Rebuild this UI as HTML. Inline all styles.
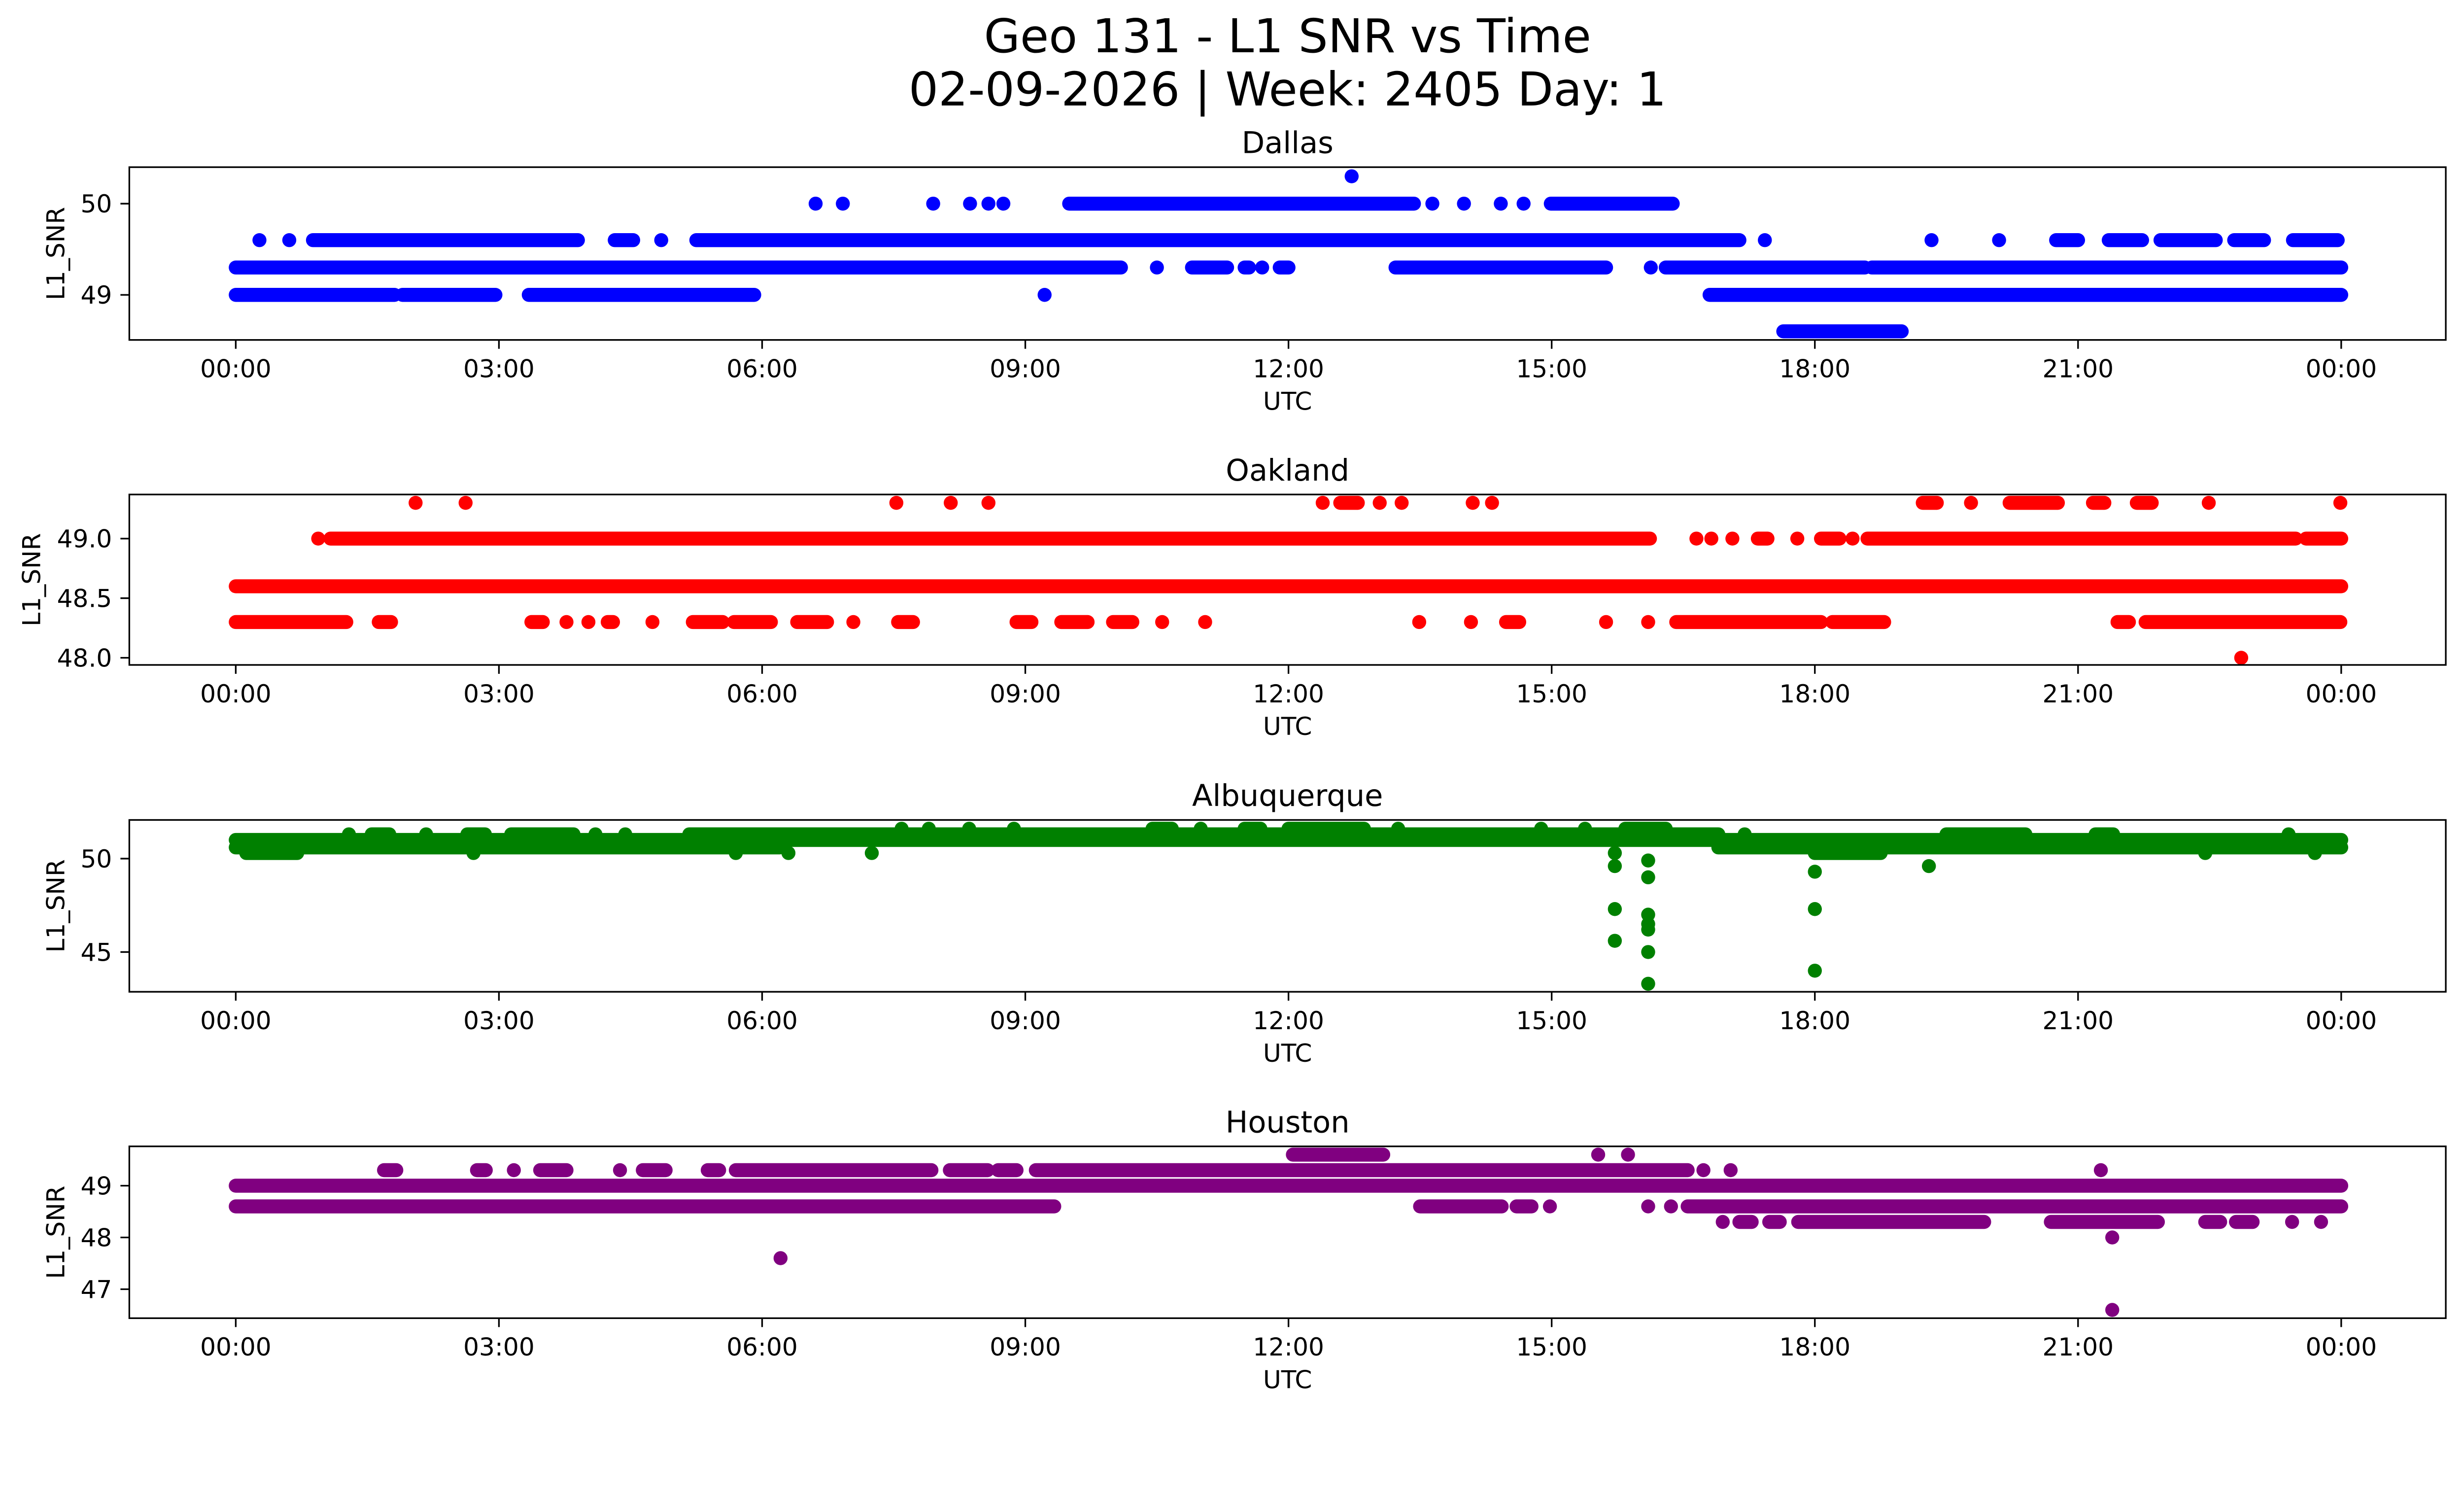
<!DOCTYPE html>
<html><head><meta charset="utf-8"><style>
html,body{margin:0;padding:0;background:#fff;overflow:hidden;}
svg{display:block;width:100vw;height:calc(100vw * 3033 / 5278);font-family:"DejaVu Sans","Liberation Sans",sans-serif;}
</style></head><body>
<svg id="fig" viewBox="0 0 5278 3033" preserveAspectRatio="none" xmlns="http://www.w3.org/2000/svg">
<rect width="5278" height="3033" fill="#fff"/>
<text x="2758" y="112" font-size="100" text-anchor="middle">Geo 131 - L1 SNR vs Time</text>
<text x="2758" y="226" font-size="100" text-anchor="middle">02-09-2026 | Week: 2405 Day: 1</text>
</svg>
<script>
// ---- data ----
const stations = ["Dallas","Oakland","Albuquerque","Houston"];
const colors = ["#0000ff","#ff0000","#008000","#800080"];
const yTicks = [[49,50],[48.0,48.5,49.0],[45,50],[47,48,49]];
const yTickLabels = [["49","50"],["48.0","48.5","49.0"],["45","50"],["47","48","49"]];
const yLims = [[48.506,50.40],[47.94,49.37],[42.87,52.07],[46.44,49.76]];
const xTickHours = [0,3,6,9,12,15,18,21,24];
const xTickLabels = ["00:00","03:00","06:00","09:00","12:00","15:00","18:00","21:00","00:00"];
// runs: [level, startHour, endHour]
const dallasRuns = [
[50.3,12.72,12.72],
[50.0,6.61,6.61],[50.0,6.92,6.92],[50.0,7.95,7.95],[50.0,8.37,8.37],[50.0,8.58,8.58],[50.0,8.75,8.75],[50.0,9.5,13.43],[50.0,13.64,13.64],[50.0,14.0,14.0],[50.0,14.42,14.42],[50.0,14.68,14.68],[50.0,14.99,16.38],
[49.6,0.27,0.27],[49.6,0.61,0.61],[49.6,0.88,3.9],[49.6,4.32,4.53],[49.6,4.85,4.85],[49.6,5.25,17.14],[49.6,17.43,17.43],[49.6,19.33,19.33],[49.6,20.1,20.1],[49.6,20.75,21.0],[49.6,21.35,21.73],[49.6,21.94,22.57],[49.6,22.78,23.12],[49.6,23.45,23.96],
[49.3,0,10.09],[49.3,10.5,10.5],[49.3,10.9,11.3],[49.3,11.5,11.55],[49.3,11.7,11.7],[49.3,11.9,12.0],[49.3,13.22,15.62],[49.3,16.13,16.13],[49.3,16.3,18.57],[49.3,18.65,24],
[49.0,0,1.81],[49.0,1.9,2.96],[49.0,3.34,5.91],[49.0,9.22,9.22],[49.0,16.8,24],
[48.6,17.64,18.99]
];
const oaklandRuns = [
[48.6,0,24],
[49.0,0.94,0.94],[49.0,1.08,16.12],[49.0,16.65,16.65],[49.0,16.82,16.82],[49.0,17.06,17.06],[49.0,17.35,17.46],[49.0,17.8,17.8],[49.0,18.07,18.28],[49.0,18.43,18.43],[49.0,18.6,23.48],[49.0,23.6,24],
[49.3,2.05,2.05],[49.3,2.62,2.62],[49.3,7.53,7.53],[49.3,8.15,8.15],[49.3,8.58,8.58],[49.3,12.39,12.39],[49.3,12.59,12.79],[49.3,13.04,13.04],[49.3,13.29,13.29],[49.3,14.1,14.1],[49.3,14.32,14.32],[49.3,19.23,19.39],[49.3,19.78,19.78],[49.3,20.22,20.77],[49.3,21.17,21.3],[49.3,21.67,21.84],[49.3,22.49,22.49],[49.3,23.99,23.99],
[48.3,0,1.26],[48.3,1.63,1.77],[48.3,3.37,3.5],[48.3,3.77,3.77],[48.3,4.02,4.02],[48.3,4.24,4.3],[48.3,4.75,4.75],[48.3,5.21,5.55],[48.3,5.68,6.1],[48.3,6.4,6.74],[48.3,7.04,7.04],[48.3,7.55,7.72],[48.3,8.9,9.07],[48.3,9.41,9.71],[48.3,10.0,10.22],[48.3,10.56,10.56],[48.3,11.05,11.05],[48.3,13.49,13.49],[48.3,14.08,14.08],[48.3,14.48,14.63],[48.3,15.62,15.62],[48.3,16.1,16.1],[48.3,16.42,18.07],[48.3,18.2,18.79],[48.3,21.45,21.58],[48.3,21.77,23.99],
[48.0,22.86,22.86]
];
const albuquerqueRuns = [
[51.0,0,24],
[50.6,0,6.2],[50.6,16.9,24],
[51.3,1.29,1.29],[51.3,1.55,1.75],[51.3,2.17,2.17],[51.3,2.64,2.84],[51.3,3.14,3.85],[51.3,4.1,4.1],[51.3,4.44,4.44],[51.3,5.17,16.9],[51.3,17.2,17.2],[51.3,19.5,20.4],[51.3,21.2,21.4],[51.3,23.4,23.4],
[51.6,7.59,7.59],[51.6,7.9,7.9],[51.6,8.36,8.36],[51.6,8.87,8.87],[51.6,10.45,10.67],[51.6,11.0,11.0],[51.6,11.5,11.68],[51.6,12.0,12.86],[51.6,13.25,13.25],[51.6,14.88,14.88],[51.6,15.38,15.38],[51.6,15.84,16.3],
[50.3,0.12,0.7],[50.3,2.71,2.71],[50.3,5.7,5.7],[50.3,6.3,6.3],[50.3,7.25,7.25],[50.3,15.72,15.72],[50.3,18.0,18.75],[50.3,22.45,22.45],[50.3,23.7,23.7],
[49.6,15.72,15.72],[47.3,15.72,15.72],[45.6,15.72,15.72],
[49.9,16.1,16.1],[49.0,16.1,16.1],[47.0,16.1,16.1],[46.5,16.1,16.1],[46.2,16.1,16.1],[45.0,16.1,16.1],[43.3,16.1,16.1],
[49.3,18.0,18.0],[47.3,18.0,18.0],[44.0,18.0,18.0],
[49.6,19.3,19.3]
];
const houstonRuns = [
[49.0,0,24],
[48.6,0,9.33],[48.6,13.5,14.43],[48.6,14.6,14.77],[48.6,14.98,14.98],[48.6,16.1,16.1],[48.6,16.36,16.36],[48.6,16.55,24],
[49.3,1.69,1.83],[49.3,2.75,2.85],[49.3,3.17,3.17],[49.3,3.47,3.77],[49.3,4.38,4.38],[49.3,4.64,4.9],[49.3,5.38,5.51],[49.3,5.7,7.93],[49.3,8.14,8.57],[49.3,8.69,8.9],[49.3,9.12,16.55],[49.3,16.73,16.73],[49.3,17.04,17.04],[49.3,21.26,21.26],
[49.6,12.05,13.08],[49.6,15.53,15.53],[49.6,15.87,15.87],
[48.3,16.95,16.95],[48.3,17.14,17.28],[48.3,17.48,17.6],[48.3,17.81,19.93],[48.3,20.69,21.91],[48.3,22.45,22.62],[48.3,22.8,22.99],[48.3,23.44,23.44],[48.3,23.77,23.77],
[48.0,21.39,21.39],[47.6,6.21,6.21],[46.6,21.39,21.39]
];
const allRuns = [dallasRuns, oaklandRuns, albuquerqueRuns, houstonRuns];

// ---- layout ----
const NS = "http://www.w3.org/2000/svg";
const svg = document.getElementById("fig");
const L = 277, R = 5239;
const tops = [358, 1059, 1756, 2455];
const bots = [728, 1424, 2124, 2823];
const X0 = 505, X24 = 5015;
function xScale(h){ return X0 + (X24 - X0) * h / 24; }
function mk(tag, attrs){ const e = document.createElementNS(NS, tag); for (const k in attrs) e.setAttribute(k, attrs[k]); return e; }

stations.forEach((name, i) => {
  const top = tops[i], bot = bots[i];
  const [y0, y1] = yLims[i];
  const yScale = v => bot - (v - y0) / (y1 - y0) * (bot - top);
  const g = mk("g", {});
  
  
  svg.appendChild(g);

  const mg = mk("g", {});
  
  
  g.appendChild(mg);
  allRuns[i].forEach(run => {
    const y = yScale(run[0]);
    const xa = xScale(run[1]), xb = xScale(run[2]);
    const ln = mk("line", {x1: xa, y1: y, x2: xb, y2: y, stroke: colors[i], "stroke-width": 30, "stroke-linecap": "round"});
    
    
    mg.appendChild(ln);
  });

  const fr = mk("rect", {x: L, y: top, width: R - L, height: bot - top, fill: "none", stroke: "#000", "stroke-width": 3.5});
  
  
  g.appendChild(fr);

  xTickHours.forEach((h, k) => {
    const x = xScale(h);
    const t = mk("line", {x1: x, y1: bot, x2: x, y2: bot + 19, stroke: "#000", "stroke-width": 3.5});
    
    
    g.appendChild(t);
    const tl = mk("text", {x: x, y: bot + 80, "font-size": 53, "text-anchor": "middle"});
    tl.textContent = xTickLabels[k];
    
    
    g.appendChild(tl);
  });
  yTicks[i].forEach((v, k) => {
    const y = yScale(v);
    const t = mk("line", {x1: L - 19, y1: y, x2: L, y2: y, stroke: "#000", "stroke-width": 3.5});
    
    
    g.appendChild(t);
    const tl = mk("text", {x: L - 37, y: y + 19, "font-size": 53, "text-anchor": "end"});
    tl.textContent = yTickLabels[i][k];
    
    
    g.appendChild(tl);
  });
  const xl = mk("text", {x: (L + R) / 2, y: bot + 150, "font-size": 53, "text-anchor": "middle"});
  xl.textContent = "UTC";
  
  
  g.appendChild(xl);
  const lx = (i === 1) ? 86 : 138;
  const cy = (top + bot) / 2;
  const yl = mk("text", {x: lx, y: cy, "font-size": 53, "text-anchor": "middle", transform: "rotate(-90 " + lx + " " + cy + ")"});
  yl.textContent = "L1_SNR";
  
  
  g.appendChild(yl);
  const tt = mk("text", {x: (L + R) / 2, y: top - 30, "font-size": 64, "text-anchor": "middle"});
  tt.textContent = name;
  
  
  g.appendChild(tt);
});
</script>
</body></html>
